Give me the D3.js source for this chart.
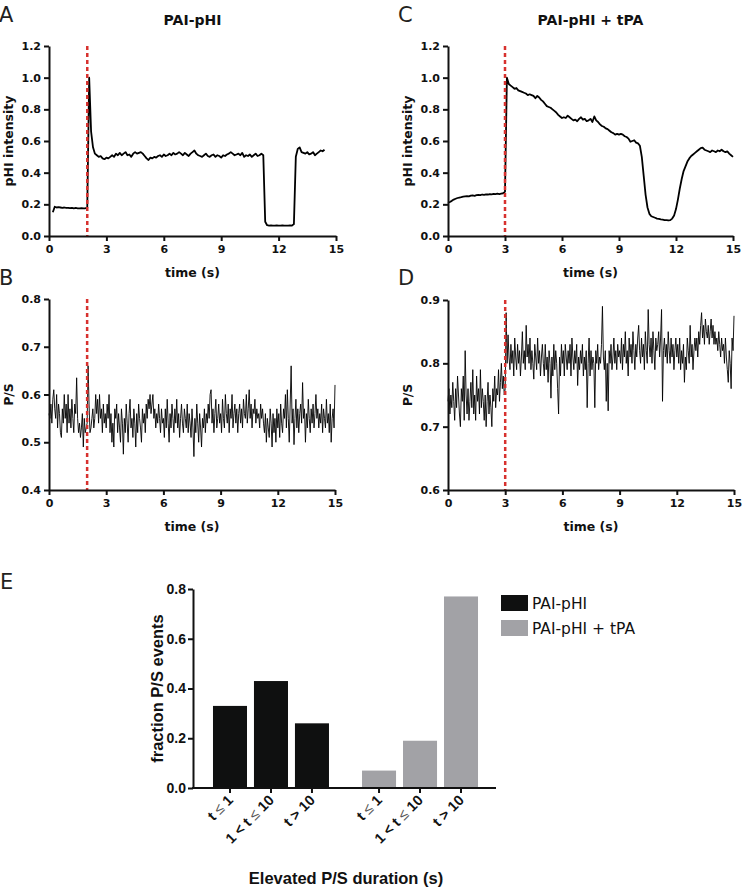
<!DOCTYPE html>
<html>
<head>
<meta charset="utf-8">
<style>
  body { margin: 0; background: #fff; }
  svg { display: block; }
  .letter { font-family: 'DejaVu Sans', sans-serif; font-size: 21px; fill: #231f20; }
  .ttl { font-family: 'DejaVu Sans', sans-serif; font-weight: bold; font-size: 14px; fill: #111; }
  .axt { font-family: 'DejaVu Sans', sans-serif; font-weight: bold; font-size: 12.5px; fill: #111; }
  .axe { font-family: 'Liberation Sans', Arial, sans-serif; font-weight: bold; font-size: 16.5px; fill: #111; }
  .leg { font-family: 'DejaVu Sans', sans-serif; font-size: 15.5px; fill: #111; }
</style>
</head>
<body>
<svg width="742" height="889"></svg>

<script src="https://d3js.org/d3.v7.min.js"></script>
<script>
// ---- data ----
// A: PAI-pHI intensity, sampled every 0.1 s starting at 0.2 s
let traceA0 = 0.2, traceAStep = 0.1
let traceA = [0.15,0.185,0.18,0.182,0.18,0.178,0.18,0.177,0.178,0.176,0.178,0.175,0.177,0.175,0.174,0.176,0.174,0.175,0.18,
  1.0,0.66,0.56,0.52,0.51,0.5,0.505,0.49,0.485,0.495,0.49,0.5,0.51,0.5,0.52,0.51,0.525,0.51,0.52,0.53,0.51,0.515,0.5,0.52,0.53,
  0.52,0.525,0.53,0.52,0.505,0.49,0.48,0.495,0.49,0.5,0.495,0.505,0.51,0.5,0.515,0.505,0.51,0.52,0.51,0.525,0.515,0.52,0.53,0.52,
  0.51,0.525,0.515,0.505,0.52,0.53,0.54,0.52,0.51,0.505,0.5,0.51,0.52,0.505,0.5,0.51,0.515,0.5,0.51,0.505,0.495,0.51,0.505,0.515,
  0.52,0.53,0.52,0.51,0.515,0.52,0.51,0.525,0.5,0.51,0.505,0.515,0.5,0.51,0.52,0.505,0.51,0.52,0.51,0.09,
  0.068,0.066,0.067,0.065,0.066,0.067,0.066,0.065,0.067,0.066,0.066,0.065,0.067,0.066,0.075,
  0.5,0.55,0.56,0.53,0.525,0.52,0.53,0.515,0.52,0.53,0.51,0.52,0.53,0.54,0.535,0.545]

// C: PAI-pHI + tPA intensity, every 0.1 s from 0 s
let traceC0 = 0, traceCStep = 0.1
let traceC = [0.21,0.215,0.222,0.23,0.235,0.24,0.243,0.245,0.248,0.25,0.252,0.25,0.255,0.256,0.254,0.258,0.26,0.258,0.262,0.26,
  0.263,0.262,0.265,0.263,0.266,0.264,0.267,0.265,0.268,0.27,0.28,
  1.0,0.96,0.95,0.94,0.93,0.935,0.92,0.915,0.91,0.905,0.9,0.89,0.895,0.89,0.885,0.87,0.885,0.875,0.86,0.85,
  0.835,0.82,0.815,0.81,0.8,0.79,0.78,0.765,0.755,0.745,0.75,0.745,0.76,0.75,0.74,0.73,0.735,0.725,0.74,0.75,
  0.735,0.74,0.725,0.73,0.74,0.72,0.755,0.73,0.72,0.705,0.695,0.69,0.68,0.675,0.665,0.655,0.65,0.64,0.645,0.64,
  0.645,0.64,0.63,0.625,0.615,0.595,0.6,0.605,0.59,0.585,0.57,0.5,0.38,0.26,0.18,0.14,0.125,0.12,0.115,0.11,
  0.108,0.105,0.103,0.1,0.1,0.098,0.1,0.11,0.13,0.17,0.23,0.3,0.36,0.41,0.44,0.47,0.49,0.505,0.515,0.525,
  0.535,0.545,0.555,0.558,0.545,0.54,0.535,0.53,0.54,0.535,0.53,0.54,0.535,0.545,0.535,0.53,0.535,0.52,0.51,0.5]

// B and D: P/S ratio, every 0.05 s from 0 s
let psStep = 0.05
let traceB = [0.56,0.55,0.58,0.54,0.59,0.61,0.57,0.55,0.6,0.53,0.58,0.56,0.52,0.51,0.57,0.54,0.6,0.55,0.58,0.52,
  0.6,0.54,0.57,0.53,0.59,0.55,0.52,0.58,0.56,0.635,0.55,0.52,0.54,0.51,0.53,0.56,0.49,0.55,0.52,0.53,
  0.54,0.66,0.58,0.52,0.53,0.55,0.57,0.53,0.55,0.6,0.56,0.59,0.54,0.6,0.55,0.57,0.52,0.58,0.54,0.56,
  0.53,0.58,0.55,0.6,0.52,0.56,0.5,0.54,0.49,0.57,0.55,0.58,0.52,0.56,0.53,0.5,0.57,0.54,0.475,0.55,
  0.52,0.58,0.54,0.5,0.56,0.59,0.53,0.55,0.51,0.57,0.54,0.49,0.56,0.52,0.58,0.55,0.53,0.5,0.57,0.54,
  0.56,0.52,0.58,0.55,0.59,0.57,0.6,0.56,0.58,0.6,0.55,0.57,0.53,0.56,0.54,0.58,0.55,0.52,0.57,0.54,
  0.55,0.51,0.57,0.53,0.59,0.54,0.5,0.56,0.53,0.58,0.55,0.52,0.57,0.54,0.59,0.53,0.56,0.51,0.55,0.58,
  0.54,0.52,0.57,0.55,0.53,0.58,0.52,0.56,0.54,0.51,0.57,0.53,0.47,0.55,0.52,0.58,0.54,0.5,0.56,0.53,
  0.49,0.55,0.53,0.57,0.52,0.56,0.54,0.58,0.55,0.6,0.61,0.54,0.57,0.52,0.56,0.59,0.53,0.55,0.58,0.54,
  0.56,0.52,0.59,0.55,0.53,0.6,0.56,0.54,0.58,0.52,0.57,0.55,0.6,0.53,0.56,0.58,0.54,0.57,0.52,0.56,
  0.58,0.54,0.57,0.53,0.59,0.56,0.55,0.6,0.54,0.57,0.61,0.55,0.58,0.53,0.57,0.56,0.59,0.54,0.57,0.55,
  0.56,0.53,0.58,0.55,0.57,0.54,0.52,0.56,0.5,0.55,0.53,0.51,0.57,0.54,0.49,0.56,0.52,0.55,0.5,0.57,
  0.53,0.56,0.51,0.58,0.54,0.52,0.57,0.55,0.6,0.53,0.61,0.55,0.5,0.58,0.66,0.54,0.57,0.495,0.55,0.59,
  0.53,0.57,0.52,0.56,0.58,0.54,0.625,0.55,0.57,0.5,0.56,0.53,0.59,0.55,0.52,0.57,0.54,0.58,0.53,0.56,
  0.6,0.55,0.57,0.53,0.56,0.54,0.58,0.52,0.57,0.55,0.53,0.59,0.54,0.56,0.52,0.58,0.5,0.55,0.57,0.53,0.62]

let traceD = [0.74,0.76,0.72,0.75,0.73,0.77,0.74,0.71,0.76,0.73,0.78,0.75,0.72,0.7,0.76,0.74,0.78,0.71,0.82,0.75,
  0.72,0.76,0.71,0.74,0.77,0.73,0.79,0.72,0.75,0.71,0.78,0.74,0.76,0.72,0.79,0.73,0.76,0.74,0.71,0.75,
  0.7,0.74,0.77,0.72,0.75,0.73,0.7,0.76,0.74,0.78,0.73,0.76,0.75,0.79,0.74,0.77,0.8,0.76,0.78,0.75,
  0.76,0.88,0.8,0.845,0.81,0.79,0.83,0.8,0.82,0.78,0.84,0.81,0.79,0.83,0.8,0.82,0.78,0.81,0.85,0.8,
  0.82,0.79,0.86,0.81,0.83,0.8,0.84,0.79,0.82,0.8,0.775,0.83,0.81,0.79,0.84,0.8,0.82,0.78,0.81,0.83,
  0.8,0.78,0.83,0.79,0.81,0.77,0.82,0.8,0.745,0.81,0.78,0.83,0.79,0.82,0.8,0.76,0.72,0.81,0.78,0.83,
  0.8,0.82,0.78,0.83,0.81,0.79,0.82,0.8,0.83,0.78,0.84,0.81,0.79,0.82,0.8,0.83,0.765,0.81,0.79,0.82,
  0.8,0.83,0.78,0.81,0.79,0.82,0.73,0.8,0.84,0.78,0.82,0.79,0.81,0.8,0.73,0.82,0.8,0.83,0.79,0.81,
  0.8,0.83,0.89,0.81,0.79,0.82,0.74,0.8,0.725,0.82,0.8,0.83,0.79,0.81,0.84,0.8,0.82,0.79,0.83,0.81,
  0.82,0.8,0.84,0.79,0.83,0.81,0.85,0.8,0.82,0.78,0.84,0.81,0.83,0.8,0.85,0.82,0.79,0.83,0.81,0.84,
  0.86,0.82,0.8,0.84,0.81,0.83,0.79,0.85,0.82,0.8,0.885,0.83,0.81,0.84,0.8,0.85,0.82,0.79,0.84,0.82,
  0.83,0.85,0.81,0.84,0.885,0.74,0.82,0.84,0.81,0.83,0.8,0.85,0.82,0.8,0.84,0.81,0.83,0.79,0.82,0.84,
  0.81,0.83,0.8,0.84,0.79,0.82,0.8,0.83,0.77,0.81,0.79,0.84,0.82,0.8,0.86,0.81,0.83,0.79,0.82,0.84,
  0.82,0.84,0.81,0.85,0.83,0.86,0.88,0.84,0.86,0.83,0.87,0.85,0.84,0.86,0.83,0.85,0.87,0.84,0.86,0.83,
  0.85,0.83,0.84,0.82,0.85,0.83,0.81,0.84,0.82,0.83,0.8,0.84,0.81,0.79,0.77,0.82,0.8,0.76,0.84,0.82,0.875]

let stimA = 2, stimC = 3          // red dashed marker (s)
let timeTicks = [0, 3, 6, 9, 12, 15]
let intTicks = [0, 0.2, 0.4, 0.6, 0.8, 1.0, 1.2]
let psTicksB = [0.4, 0.5, 0.6, 0.7, 0.8]
let psTicksD = [0.6, 0.7, 0.8, 0.9]

// E: fraction of P/S events by elevated duration
let groups = ["PAI-pHI", "PAI-pHI + tPA"]
let durations = ["t ≤ 1", "1 < t ≤ 10", "t > 10"]
let fracPAI = [0.33, 0.43, 0.26]
let fracTPA = [0.07, 0.19, 0.77]
let fracTicks = [0, 0.2, 0.4, 0.6, 0.8]
let groupColors = ["#0f1010", "#a2a2a6"]

// ---- drawing ----
let svg = d3.select("svg")
let red = "#d7312e"

function styleAxis(g, size) {
    g.select(".domain").attr("stroke", "#111").attr("stroke-width", 2)
    g.selectAll(".tick line").attr("stroke", "#111").attr("stroke-width", 2)
    g.selectAll(".tick text")
        .attr("fill", "#111")
        .style("font-family", size ? "'Liberation Sans', Arial, sans-serif" : "'DejaVu Sans', sans-serif")
        .style("font-weight", "bold")
        .style("font-size", (size || 11) + "px")
}

function tracePanel(p) {
    let x = d3.scaleLinear().domain([0, 15]).range([p.x0, p.x1])
    let y = d3.scaleLinear().domain(p.yDomain).range([p.y0, p.y1])

    let pts = p.values.map((v, i) => ({ t: p.t0 + i * p.step, v: v }))
    let line = d3.line().x(d => x(d.t)).y(d => y(d.v))

    svg.append("path")
        .datum(pts)
        .attr("d", line)
        .attr("fill", "none")
        .attr("stroke", "#000")
        .attr("stroke-width", p.lw)
        .attr("stroke-linejoin", "round")

    svg.append("line")
        .attr("x1", x(p.stim)).attr("x2", x(p.stim))
        .attr("y1", p.y1).attr("y2", p.y0)
        .attr("stroke", red)
        .attr("stroke-width", 2.5)
        .attr("stroke-dasharray", "4,3")

    let gx = svg.append("g")
        .attr("transform", `translate(0,${p.y0})`)
        .call(d3.axisBottom(x).tickValues(timeTicks).tickSize(5).tickSizeOuter(0).tickPadding(4))
    styleAxis(gx)

    let gy = svg.append("g")
        .attr("transform", `translate(${p.x0},0)`)
        .call(d3.axisLeft(y).tickValues(p.yTicks).tickFormat(d3.format(".1f")).tickSize(5).tickSizeOuter(0).tickPadding(3))
    styleAxis(gy)

    svg.append("text").attr("class", "axt")
        .attr("x", (p.x0 + p.x1) / 2).attr("y", p.y0 + 41)
        .attr("text-anchor", "middle")
        .text("time (s)")

    svg.append("text").attr("class", "axt")
        .attr("transform", `translate(${p.x0 - 36},${(p.y0 + p.y1) / 2}) rotate(-90)`)
        .attr("text-anchor", "middle")
        .text(p.yLabel)

    svg.append("text").attr("class", "letter")
        .attr("x", p.x0 - 50).attr("y", p.letterY)
        .text(p.letter)

    if (p.title) {
        svg.append("text").attr("class", "ttl")
            .attr("x", (p.x0 + p.x1) / 2).attr("y", 25)
            .attr("text-anchor", "middle")
            .text(p.title)
    }
}

tracePanel({ x0: 49, x1: 336, y0: 236, y1: 46, yDomain: [0, 1.2], yTicks: intTicks,
    values: traceA, t0: traceA0, step: traceAStep, lw: 1.8, stim: stimA,
    yLabel: "pHI intensity", letter: "A", letterY: 22, title: "PAI-pHI" })
tracePanel({ x0: 448, x1: 733, y0: 236, y1: 46, yDomain: [0, 1.2], yTicks: intTicks,
    values: traceC, t0: traceC0, step: traceCStep, lw: 1.8, stim: stimC,
    yLabel: "pHI intensity", letter: "C", letterY: 22, title: "PAI-pHI + tPA" })
tracePanel({ x0: 49, x1: 335, y0: 490, y1: 299, yDomain: [0.4, 0.8], yTicks: psTicksB,
    values: traceB, t0: 0, step: psStep, lw: 0.9, stim: stimA,
    yLabel: "P/S", letter: "B", letterY: 285 })
tracePanel({ x0: 448, x1: 734, y0: 490, y1: 300, yDomain: [0.6, 0.9], yTicks: psTicksD,
    values: traceD, t0: 0, step: psStep, lw: 0.9, stim: stimC,
    yLabel: "P/S", letter: "D", letterY: 285 })

// ---- panel E ----
let E = { x0: 193, x1: 496, y0: 788, y1: 589 }
let yE = d3.scaleLinear().domain([0, 0.8]).range([E.y0, E.y1])
let xGroup = d3.scaleBand().domain(groups).range([E.x0 + 16.5, E.x1 - 14.5]).paddingInner(0.175)
let xDur = d3.scaleBand().domain(durations).range([0, xGroup.bandwidth()]).paddingInner(0.17).paddingOuter(0.085)

let barData = []
groups.forEach((g, gi) => {
    let vals = gi == 0 ? fracPAI : fracTPA
    durations.forEach((c, ci) => barData.push({ group: g, dur: c, value: vals[ci], color: groupColors[gi] }))
})

svg.selectAll(".bar")
    .data(barData)
    .join("rect")
    .attr("class", "bar")
    .attr("x", d => xGroup(d.group) + xDur(d.dur))
    .attr("width", xDur.bandwidth())
    .attr("y", d => yE(d.value))
    .attr("height", d => yE(0) - yE(d.value))
    .attr("fill", d => d.color)

let gyE = svg.append("g")
    .attr("transform", `translate(${E.x0},0)`)
    .call(d3.axisLeft(yE).tickValues(fracTicks).tickFormat(d3.format(".1f")).tickSize(5).tickSizeOuter(0).tickPadding(2))
styleAxis(gyE, 14)

svg.append("line")
    .attr("x1", E.x0 - 1).attr("x2", E.x1)
    .attr("y1", E.y0).attr("y2", E.y0)
    .attr("stroke", "#111").attr("stroke-width", 2)

let cats = svg.selectAll(".cat")
    .data(barData)
    .join("g")
    .attr("class", "cat")
    .attr("transform", d => `translate(${xGroup(d.group) + xDur(d.dur) + xDur.bandwidth() / 2},${E.y0})`)

cats.append("line")
    .attr("y1", 0).attr("y2", 5)
    .attr("stroke", "#111").attr("stroke-width", 2)

let catText = cats.append("text")
    .attr("transform", "translate(4,13) rotate(-45)")
    .attr("text-anchor", "end")
    .style("font-family", "'Liberation Sans', Arial, sans-serif")
    .style("font-weight", "bold")
    .style("font-size", "14.5px")
    .attr("fill", "#111")

// split at the ≤ sign so it can be drawn thinner, like the original
catText.each(function (d) {
    let parts = d.dur.split("≤")
    let t = d3.select(this)
    parts.forEach((s, i) => {
        if (i > 0) t.append("tspan").style("font-weight", "normal").attr("fill", "#555").text("≤")
        t.append("tspan").text(s)
    })
})

svg.append("text").attr("class", "axe")
    .attr("transform", `translate(${E.x0 - 30},${(E.y0 + E.y1) / 2}) rotate(-90)`)
    .attr("text-anchor", "middle")
    .text("fraction P/S events")

svg.append("text").attr("class", "axe")
    .attr("x", 346).attr("y", 884)
    .attr("text-anchor", "middle")
    .text("Elevated P/S duration (s)")

svg.append("text").attr("class", "letter")
    .attr("x", 0).attr("y", 589)
    .text("E")

// legend
let leg = svg.selectAll(".leg-item")
    .data(groups)
    .join("g")
    .attr("class", "leg-item")
    .attr("transform", (d, i) => `translate(501,${595 + i * 25})`)

leg.append("rect")
    .attr("width", 27).attr("height", 16)
    .attr("fill", (d, i) => groupColors[i])

leg.append("text").attr("class", "leg")
    .attr("x", 31).attr("y", 14)
    .text(d => d)
</script>
</body>
</html>
